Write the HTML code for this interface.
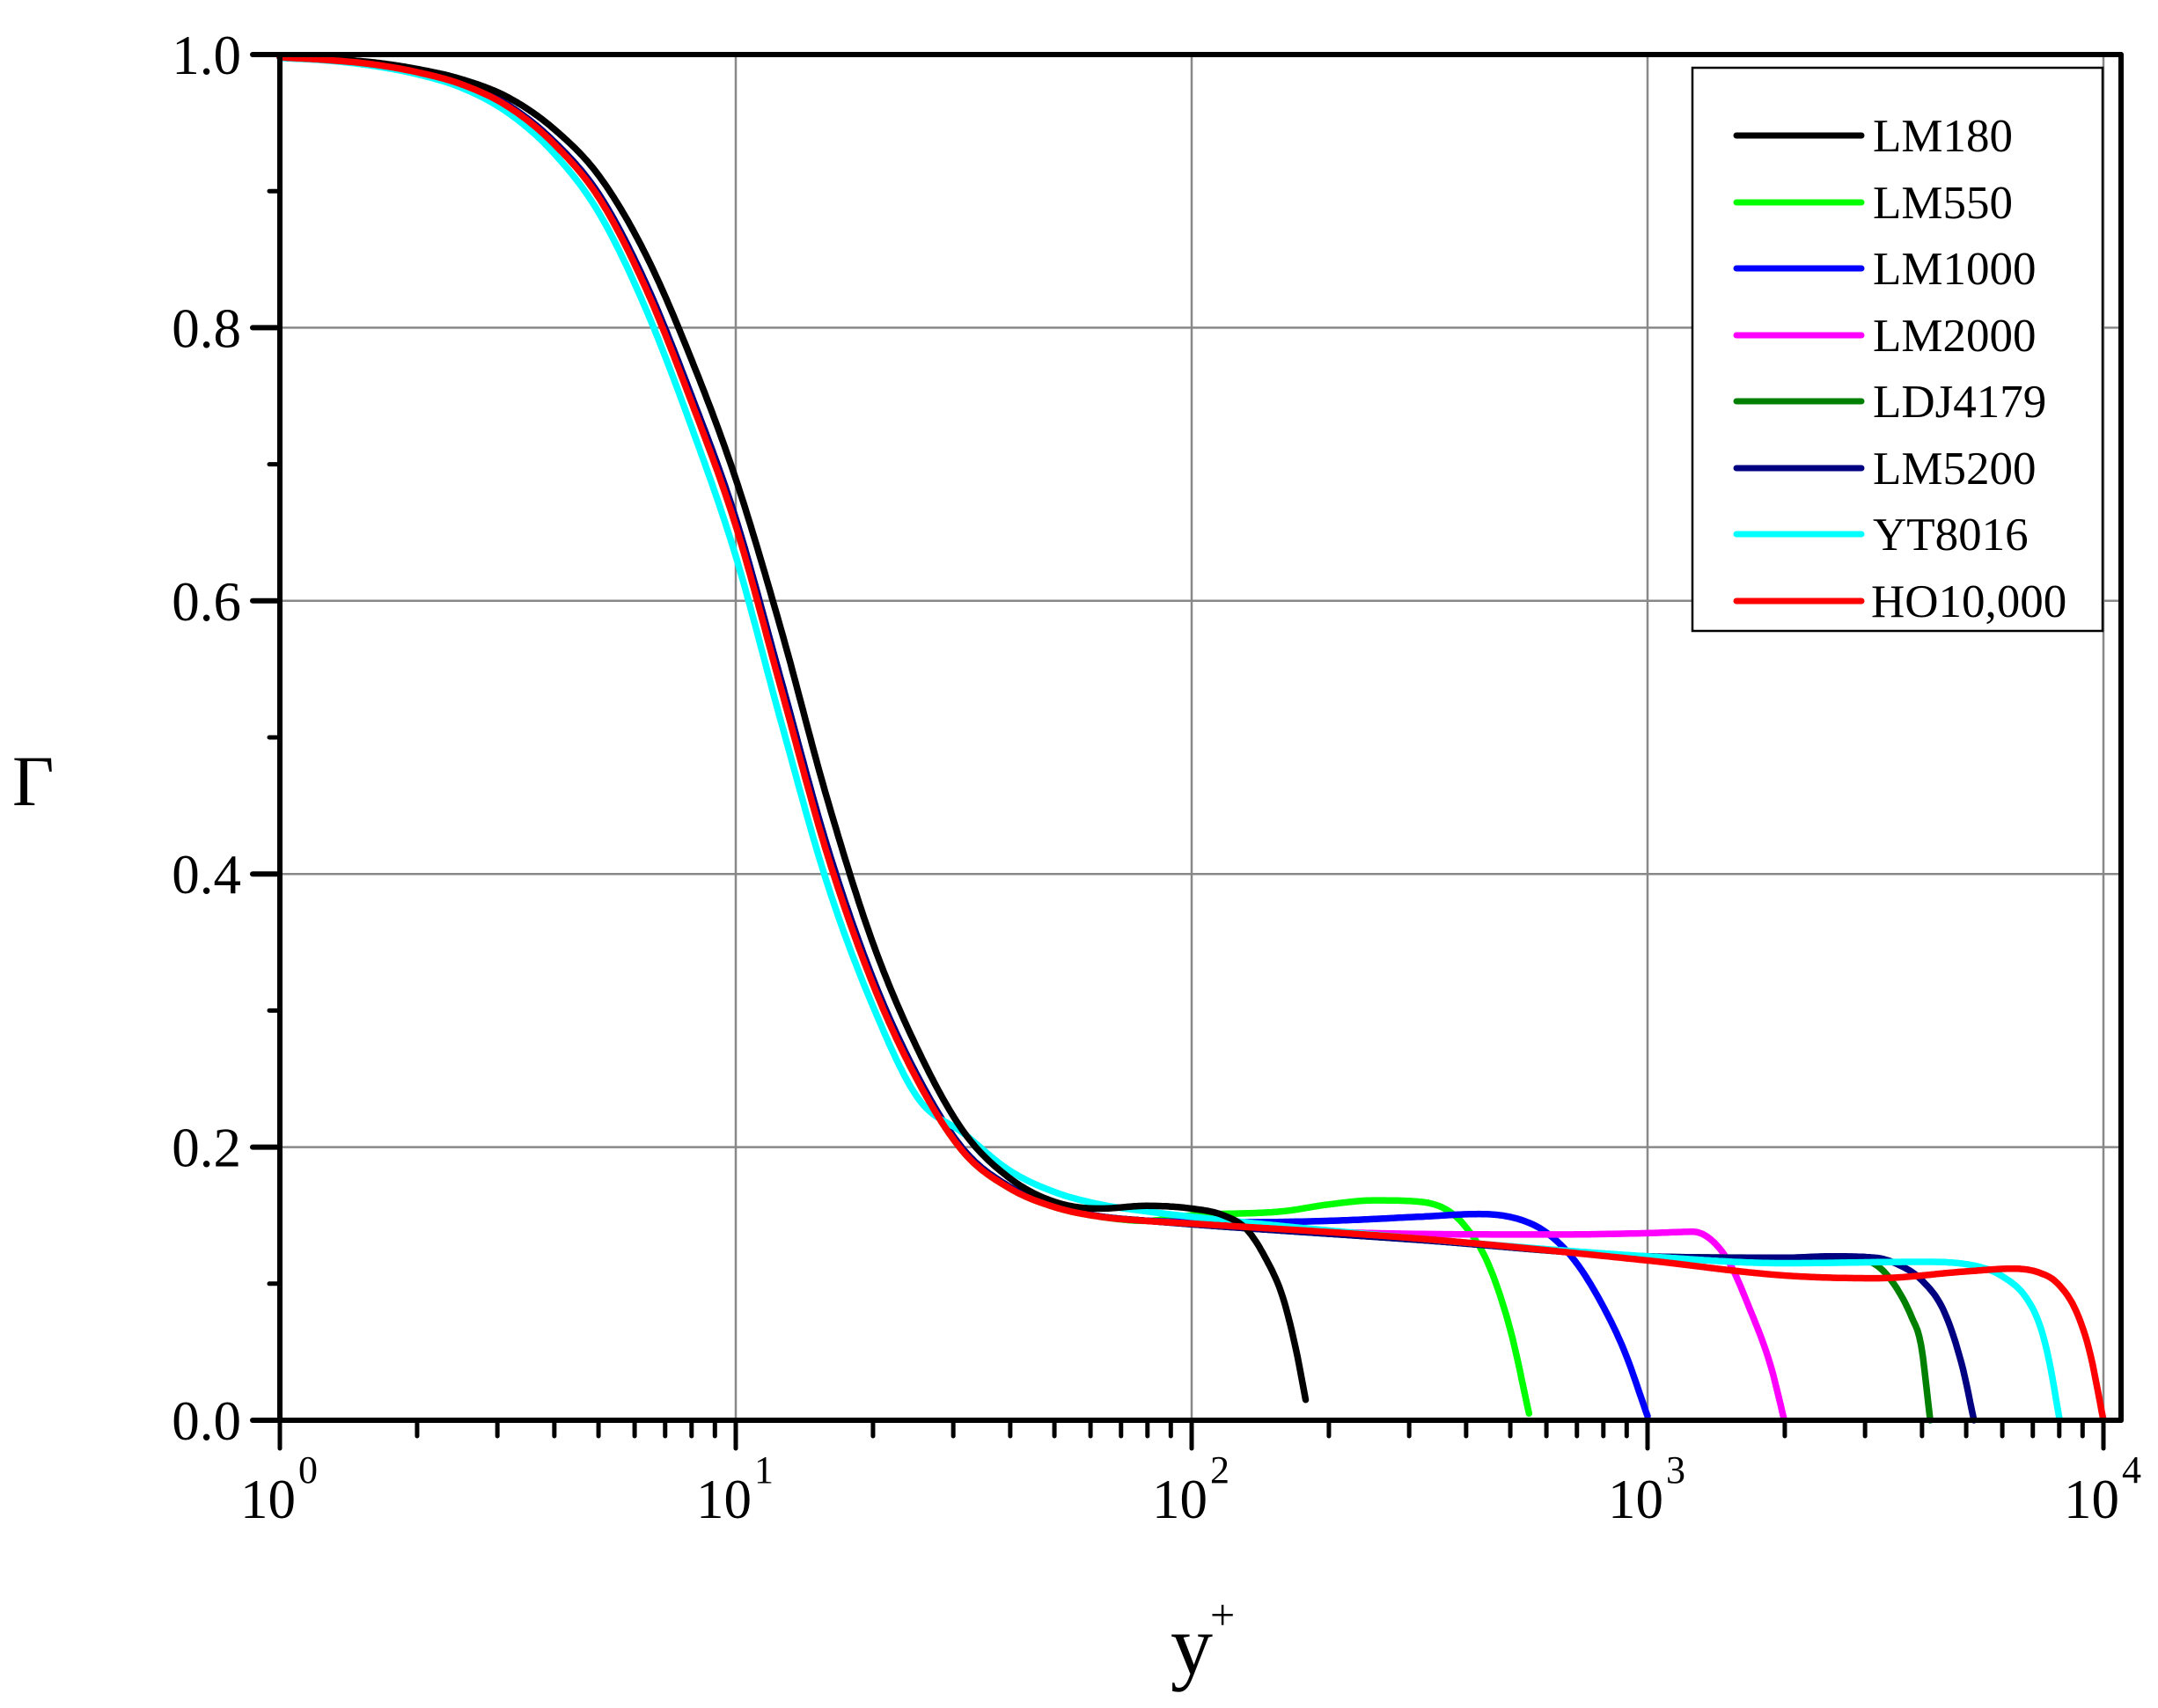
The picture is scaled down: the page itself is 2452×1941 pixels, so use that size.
<!DOCTYPE html>
<html><head><meta charset="utf-8">
<style>
html,body{margin:0;padding:0;background:#fff;}
svg{display:block;}
text{font-family:"Liberation Serif",serif;fill:#000;}
</style></head>
<body>
<svg id="s" width="2452" height="1941" viewBox="0 0 2452 1941" xmlns="http://www.w3.org/2000/svg">
<rect width="2452" height="1941" fill="#fff"/>
<g id="grid" stroke="#888" stroke-width="2.5"></g>
<g id="curves" fill="none" stroke-width="7.5" stroke-linejoin="round" stroke-linecap="round"></g>
<g id="axes" stroke="#000" stroke-linecap="round"></g>
<g id="labels" font-size="63"></g>
<rect x="1923" y="77" width="466" height="640" fill="#fff" stroke="#000" stroke-width="2.5"/>
<g stroke-width="7" stroke-linecap="round">
<line x1="1973" y1="154" x2="2115" y2="154" stroke="#000"/>
<line x1="1973" y1="230" x2="2115" y2="230" stroke="#00ff00"/>
<line x1="1973" y1="305" x2="2115" y2="305" stroke="#0000ff"/>
<line x1="1973" y1="381" x2="2115" y2="381" stroke="#ff00ff"/>
<line x1="1973" y1="456" x2="2115" y2="456" stroke="#008000"/>
<line x1="1973" y1="532" x2="2115" y2="532" stroke="#000080"/>
<line x1="1973" y1="607" x2="2115" y2="607" stroke="#00ffff"/>
<line x1="1973" y1="683" x2="2115" y2="683" stroke="#ff0000"/>
</g>
<g font-size="53">
<text x="2128" y="172">LM180</text>
<text x="2128" y="248">LM550</text>
<text x="2128" y="323">LM1000</text>
<text x="2128" y="399">LM2000</text>
<text x="2128" y="474">LDJ4179</text>
<text x="2128" y="550">LM5200</text>
<text x="2128" y="625">YT8016</text>
<text x="2126" y="701">HO10,000</text>
</g>
<text x="14" y="915" font-size="82">Γ</text>
<text x="1330" y="1902" font-size="96">y</text>
<text x="1375" y="1852" font-size="50">+</text>
</svg>
<script>
(function(){
var NS="http://www.w3.org/2000/svg";
var L=318,R=2410,T=62,B=1614,D=518;
function X(l){return L+l*D;}
function Y(g){return B-g*(B-T);}
function el(p,tag,a,txt){var e=document.createElementNS(NS,tag);for(var k in a)e.setAttribute(k,a[k]);if(txt!==undefined)e.textContent=txt;document.getElementById(p).appendChild(e);return e;}
[0.2,0.4,0.6,0.8].forEach(function(g){el("grid","line",{x1:L,x2:R,y1:Y(g),y2:Y(g)});});
[1,2,3,4].forEach(function(d){el("grid","line",{x1:X(d),x2:X(d),y1:T,y2:B});});
var base=[[0,0.998],[0.2,0.993],[0.4,0.978],[0.5,0.962],[0.6,0.935],[0.7,0.895],[0.78,0.845],[0.84,0.8],[0.92,0.73],[1.0,0.655],[1.035,0.615],[1.1,0.535],[1.214,0.4],[1.3,0.32],[1.4,0.248],[1.49,0.2],[1.6,0.17],[1.7,0.156],[1.8,0.149],[1.9,0.146],[2.0,0.144]];
// monotone cubic (Fritsch-Carlson)
function mono(tab){
 var n=tab.length,x=tab.map(function(p){return p[0]}),y=tab.map(function(p){return p[1]}),d=[],m=[];
 for(var i=0;i<n-1;i++)d.push((y[i+1]-y[i])/(x[i+1]-x[i]));
 m[0]=d[0];m[n-1]=d[n-2];
 for(i=1;i<n-1;i++){m[i]=(d[i-1]*d[i]<=0)?0:(d[i-1]+d[i])/2;}
 for(i=0;i<n-1;i++){if(d[i]===0){m[i]=0;m[i+1]=0;continue;}var a=m[i]/d[i],b=m[i+1]/d[i],s=a*a+b*b;if(s>9){var t=3/Math.sqrt(s);m[i]=t*a*d[i];m[i+1]=t*b*d[i];}}
 return function(v){if(v<=x[0])return y[0];if(v>=x[n-1])return y[n-1];
  var k=0;while(v>x[k+1])k++;var h=x[k+1]-x[k],t=(v-x[k])/h,t2=t*t,t3=t2*t;
  return (2*t3-3*t2+1)*y[k]+(t3-2*t2+t)*h*m[k]+(-2*t3+3*t2)*y[k+1]+(t3-t2)*h*m[k+1];};
}
var fb=mono(base);
function build(shift,cut,tail,col){
 var tab=[];
 for(var l=0;l<=cut+1e-9;l+=0.1){tab.push([l,fb(l-shift)]);}
 if(tab[tab.length-1][0]<cut-1e-6)tab.push([cut,fb(cut-shift)]);
 tab=tab.concat(tail);
 var f=mono(tab),end=tail[tail.length-1][0],pts=[];
 for(var v=0;v<end;v+=0.004)pts.push([v,f(v)]);
 pts.push(tail[tail.length-1]);
 var d="M"+pts.map(function(p){return X(p[0]).toFixed(1)+","+Y(p[1]).toFixed(1);}).join(" L");
 el("curves","path",{d:d,stroke:col});
}
var redTail=[[2.5,0.133],[3.0,0.117],[3.3,0.106],[3.5,0.104],[3.7,0.109],[3.8,0.111],[3.86,0.108],[3.9,0.1],[3.94,0.08],[3.97,0.05],[4.0,0.0]];
build(0.0,1.9,[[2.0,0.15],[2.2,0.153],[2.3,0.158],[2.4,0.161],[2.5,0.16],[2.56,0.154],[2.6,0.142],[2.65,0.115],[2.7,0.065],[2.74,0.005]],"#00ff00");
build(0.005,1.9,[[2.1,0.145],[2.3,0.146],[2.5,0.149],[2.63,0.151],[2.72,0.147],[2.78,0.137],[2.84,0.117],[2.9,0.085],[2.95,0.05],[3.0,0.003]],"#0000ff");
build(0.005,1.9,[[2.1,0.142],[2.4,0.137],[2.8,0.136],[3.0,0.137],[3.1,0.138],[3.14,0.132],[3.18,0.115],[3.22,0.085],[3.27,0.04],[3.3,0.0]],"#ff00ff");
build(0.005,1.9,[[2.5,0.132],[3.0,0.12],[3.3,0.119],[3.45,0.118],[3.5,0.114],[3.54,0.1],[3.58,0.075],[3.6,0.055],[3.62,0.0]],"#008000");
build(0.005,1.9,[[2.5,0.132],[3.0,0.12],[3.3,0.119],[3.4,0.12],[3.5,0.119],[3.55,0.114],[3.6,0.103],[3.65,0.08],[3.69,0.04],[3.716,0.0]],"#000080");
build(-0.02,1.4,[[1.5,0.21],[1.6,0.183],[1.7,0.167],[1.8,0.158],[1.9,0.153],[2.0,0.149],[2.5,0.133],[3.0,0.12],[3.3,0.115],[3.6,0.116],[3.72,0.113],[3.78,0.105],[3.83,0.09],[3.86,0.07],[3.88,0.045],[3.904,0.0]],"#00ffff");
build(0.035,1.7,[[1.8,0.155],[1.9,0.157],[2.0,0.155],[2.07,0.15],[2.12,0.14],[2.16,0.12],[2.2,0.09],[2.23,0.05],[2.25,0.015]],"#000");
build(0.0,2.0,redTail,"#ff0000");
el("axes","line",{x1:L,y1:T,x2:L,y2:B,"stroke-width":6});
el("axes","line",{x1:L,y1:B,x2:R,y2:B,"stroke-width":6});
el("axes","line",{x1:L,y1:T,x2:R,y2:T,"stroke-width":6});
el("axes","line",{x1:R,y1:T,x2:R,y2:B,"stroke-width":6});
for(var i=0;i<=10;i++){var g=i/10,y=Y(g);
 if(i%2==0){el("axes","line",{x1:L-31,x2:L,y1:y,y2:y,"stroke-width":6});
  el("labels","text",{x:274,y:y+22,"text-anchor":"end"},g.toFixed(1));}
 else el("axes","line",{x1:L-12,x2:L,y1:y,y2:y,"stroke-width":5});
}
for(var d=0;d<=4;d++){var x=X(d);
 el("axes","line",{x1:x,x2:x,y1:B,y2:B+32,"stroke-width":5});
 el("labels","text",{x:x+18,y:1725,"text-anchor":"end"},"10");
 el("labels","text",{x:x+21,y:1685,"font-size":"44"},String(d));
 if(d<4)for(var m=2;m<=9;m++){var xm=X(d+Math.log10(m));el("axes","line",{x1:xm,x2:xm,y1:B,y2:B+18,"stroke-width":5});}
}
})();
</script>
</body></html>
